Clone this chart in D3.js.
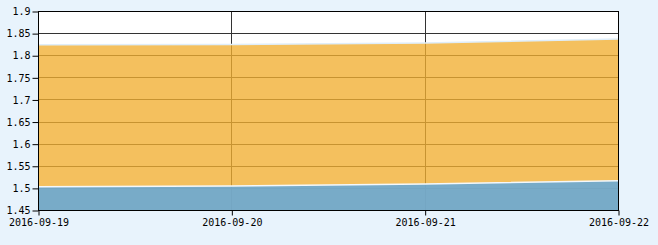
<!DOCTYPE html>
<html>
<head>
<meta charset="utf-8">
<script src="https://cdn.jsdelivr.net/npm/d3@7"></script>
<style>
  html, body { margin: 0; padding: 0; background: #e8f3fc; overflow: hidden; }
  svg { display: block; }
  svg text { font-family: "DejaVu Sans Mono", monospace; font-size: 10px; fill: #000; }
</style>
</head>
<body>
<div id="chart"></div>
<script>
// data
const dates = ["2016-09-19", "2016-09-20", "2016-09-21", "2016-09-22"];
const upperSeries = [1.8238, 1.8245, 1.8276, 1.8366];
const lowerSeries = [1.5027, 1.5042, 1.5090, 1.5163];
const yTicks = [1.45, 1.5, 1.55, 1.6, 1.65, 1.7, 1.75, 1.8, 1.85, 1.9];

const width = 658;
const height = 245;
const margin = {top: 11, right: 40, bottom: 35, left: 38};

const svg = d3.select("#chart")
  .append("svg")
  .attr("width", width)
  .attr("height", height);

const chart = svg.append("g")
  .attr("transform", `translate(${margin.left}, ${margin.top})`);

const innerWidth = width - margin.left - margin.right;
const innerHeight = height - margin.top - margin.bottom;

const x = d3.scalePoint()
  .domain(dates)
  .range([0, innerWidth]);

const y = d3.scaleLinear()
  .domain([1.45, 1.9])
  .range([innerHeight, 0]);

// plot background
chart.append("rect")
  .attr("width", innerWidth)
  .attr("height", innerHeight)
  .attr("fill", "#fff");

// grid
chart.append("g")
  .selectAll("line")
  .data(yTicks)
  .enter()
  .append("line")
  .attr("x1", 0)
  .attr("x2", innerWidth)
  .attr("y1", d => Math.round(y(d)) + 0.5)
  .attr("y2", d => Math.round(y(d)) + 0.5)
  .attr("stroke", "#333");

chart.append("g")
  .selectAll("line")
  .data(dates)
  .enter()
  .append("line")
  .attr("x1", d => Math.round(x(d)) + 0.5)
  .attr("x2", d => Math.round(x(d)) + 0.5)
  .attr("y1", 0)
  .attr("y2", innerHeight)
  .attr("stroke", "#333");

// areas
const area = vals => d3.area()
  .x((d, i) => x(dates[i]))
  .y0(innerHeight)
  .y1(d => y(d))(vals);

const line = vals => d3.line()
  .x((d, i) => x(dates[i]))
  .y(d => y(d))(vals);

chart.append("path")
  .attr("d", area(upperSeries))
  .attr("fill", "#f1ae31")
  .attr("fill-opacity", 0.78);
chart.append("path")
  .attr("d", line(upperSeries))
  .attr("fill", "none")
  .attr("stroke", "#dfeefa")
  .attr("stroke-width", 1.5);

chart.append("path")
  .attr("d", area(lowerSeries))
  .attr("fill", "#6aa9d4")
  .attr("fill-opacity", 0.9);
chart.append("path")
  .attr("d", line(lowerSeries))
  .attr("fill", "none")
  .attr("stroke", "#f4f8fb")
  .attr("stroke-width", 1.5);

// frame
chart.append("rect")
  .attr("x", 0.5)
  .attr("y", 0.5)
  .attr("width", innerWidth)
  .attr("height", innerHeight)
  .attr("fill", "none")
  .attr("stroke", "#000");

// axes
const yAxis = chart.append("g")
  .attr("transform", "translate(0.5, 0.5)")
  .call(d3.axisLeft(y).tickValues(yTicks).tickSize(6).tickPadding(2).tickFormat(d => String(d)));
yAxis.select(".domain").remove();
yAxis.selectAll("line").attr("stroke", "#000");

const xAxis = chart.append("g")
  .attr("transform", `translate(0.5, ${innerHeight + 0.5})`)
  .call(d3.axisBottom(x).tickSize(5).tickPadding(3));
xAxis.select(".domain").remove();
xAxis.selectAll("line").attr("stroke", "#000");
</script>
</body>
</html>
